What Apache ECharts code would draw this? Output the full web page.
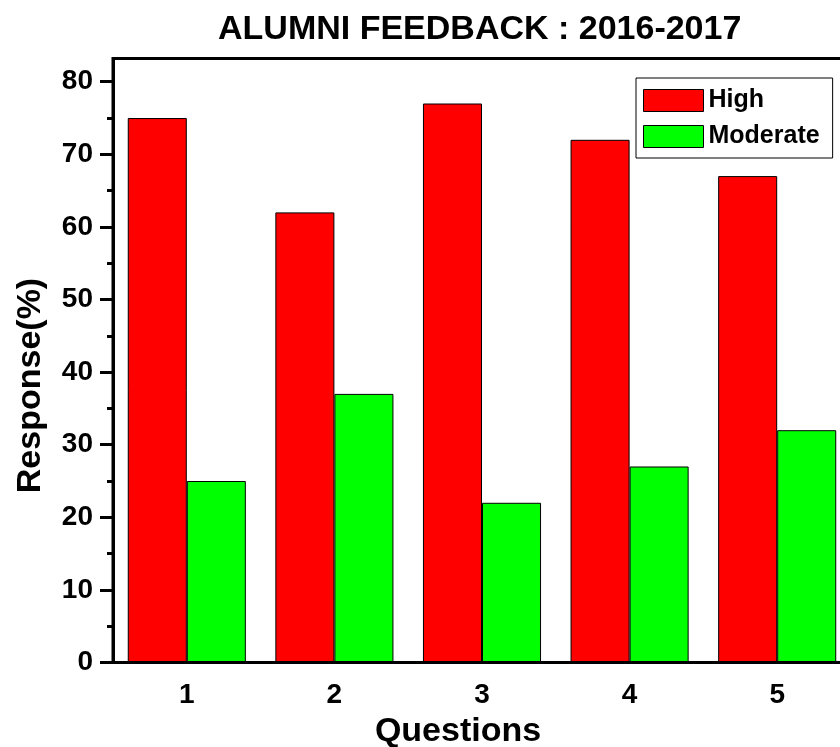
<!DOCTYPE html>
<html><head><meta charset="utf-8">
<script src="https://cdn.jsdelivr.net/npm/echarts@6/dist/echarts.min.js"></script>
<style>html,body{margin:0;padding:0;background:#fff}#c{width:840px;height:747px}</style>
</head><body><div id="c"></div>
<script>
const categories = ['1', '2', '3', '4', '5'];
const highValues = [75, 62, 77, 72, 67];
const moderateValues = [25, 37, 22, 27, 32];
const yMajorTicks = [0, 10, 20, 30, 40, 50, 60, 70, 80];
const yMinorTicks = [5, 15, 25, 35, 45, 55, 65, 75];
const seriesNames = ['High', 'Moderate'];

const FONT = '"Liberation Sans", Arial, sans-serif';
const txt = (size) => ({ fontFamily: FONT, fontWeight: 'bold', fontSize: size, color: '#000' });

const chart = echarts.init(document.getElementById('c'));
chart.setOption({
  animation: false,
  backgroundColor: '#fff',
  title: {
    text: 'ALUMNI FEEDBACK : 2016-2017',
    left: 218, top: 13,
    padding: 0,
    textStyle: txt(34)
  },
  legend: {
    orient: 'vertical', left: 636, top: 78,
    itemWidth: 60, itemHeight: 22, itemGap: 11,
    padding: [10, 13, 9, 7],
    borderColor: '#000', borderWidth: 1, borderRadius: 0,
    backgroundColor: '#fff',
    icon: 'rect',
    itemStyle: { borderColor: '#000', borderWidth: 1 },
    textStyle: txt(25),
    data: seriesNames
  },
  grid: {
    left: 113, top: 58.5, width: 738, height: 604,
    outerBoundsMode: 'none', containLabel: false,
    show: true, borderColor: '#000', borderWidth: 3, backgroundColor: 'transparent'
  },
  xAxis: [{
    type: 'category', data: categories, position: 'bottom',
    axisLine: { lineStyle: { color: '#000', width: 3 } },
    axisTick: { alignWithLabel: true, interval: 0, length: 12, lineStyle: { color: '#000', width: 3 } },
    axisLabel: Object.assign({ margin: 19 }, txt(28)),
    splitLine: { show: false },
    name: 'Questions', nameLocation: 'middle', nameGap: 52,
    nameTextStyle: Object.assign({ padding: [0, 48, 0, 0] }, txt(34)),
    z: 10
  }, {
    type: 'category', data: categories, position: 'bottom',
    axisLine: { show: false },
    axisTick: { interval: 0, length: 7, lineStyle: { color: '#000', width: 3 } },
    axisLabel: { show: false },
    splitLine: { show: false }
  }],
  yAxis: [{
    type: 'value', min: 0, max: 83.2, interval: 10,
    axisLine: { show: true, lineStyle: { color: '#000', width: 3 } },
    axisTick: { show: true, customValues: yMajorTicks, length: 13, lineStyle: { color: '#000', width: 3 } },
    axisLabel: Object.assign({ margin: 20, customValues: yMajorTicks }, txt(28)),
    splitLine: { show: false },
    name: 'Response(%)', nameLocation: 'middle', nameGap: 65, nameRotate: 90,
    nameTextStyle: Object.assign({ padding: [0, 50, 0, 0] }, txt(34)),
    z: 10
  }, {
    type: 'value', min: 0, max: 83.2, position: 'left',
    axisLine: { show: false },
    axisTick: { show: true, customValues: yMinorTicks, length: 6, lineStyle: { color: '#000', width: 3 } },
    axisLabel: { show: false },
    splitLine: { show: false }
  }],
  series: [{
    name: seriesNames[0], type: 'bar', data: highValues,
    barCategoryGap: '20%', barGap: '0%',
    itemStyle: { color: '#ff0000', borderColor: '#000', borderWidth: 1 }
  }, {
    name: seriesNames[1], type: 'bar', data: moderateValues,
    barCategoryGap: '20%', barGap: '0%',
    itemStyle: { color: '#00ff00', borderColor: '#000', borderWidth: 1 }
  }]
});
</script></body></html>
